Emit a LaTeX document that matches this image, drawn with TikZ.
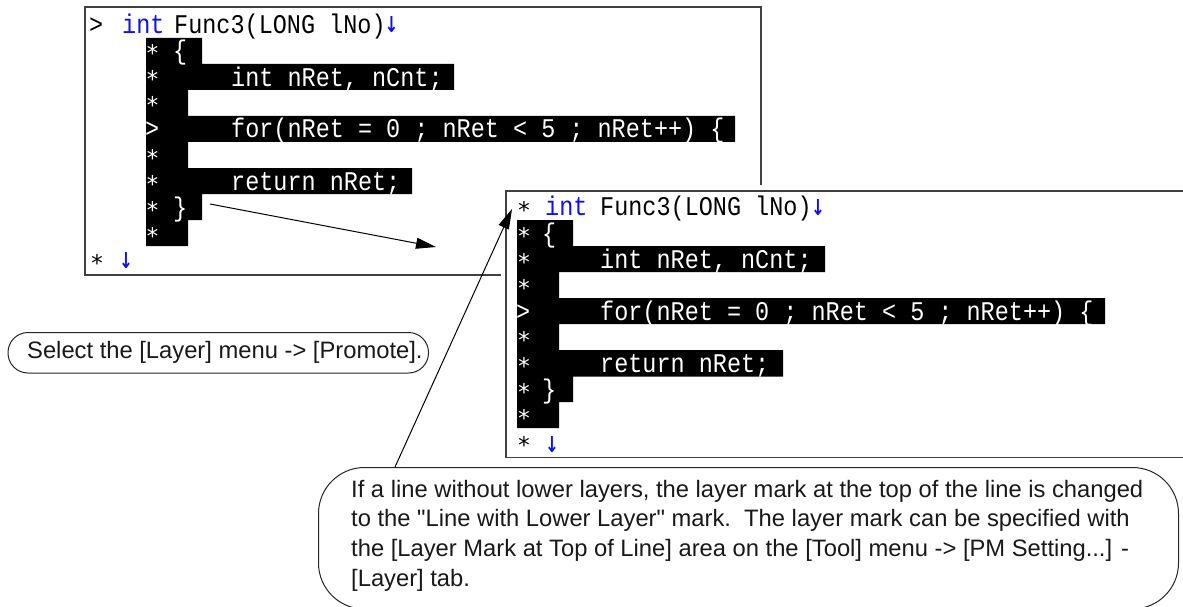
\documentclass[tikz,border=0pt]{standalone}
\usepackage{fontspec}
\usetikzlibrary{arrows.meta}
\newfontfamily\bubblefont{Liberation Sans}
\newfontfamily\codefont[FakeStretch=0.87]{Liberation Mono}
\newfontfamily\starfont{DejaVu Sans Mono}
\newfontfamily\markfont[FakeStretch=0.75]{DejaVu Sans}
\definecolor{framegray}{HTML}{404040}
\definecolor{codeblue}{HTML}{1010F0}
\tikzset{
  x=1pt,y=-1pt,
  frameline/.style={draw=framegray,line width=1.8pt},
  blackrow/.style={fill=black,draw=none},
  codetext/.style={anchor=base west,inner sep=0pt,text=black,font=\codefont\fontsize{27}{27}\selectfont},
  invtext/.style={codetext,text=white},
  kwtext/.style={codetext,text=codeblue},
  startext/.style={anchor=base,inner sep=0pt,text=black,font=\starfont\fontsize{23}{23}\selectfont},
  invstar/.style={startext,text=white},
  retmark/.style={anchor=base,inner sep=0pt,text=codeblue,font=\markfont\bfseries\fontsize{22}{22}\selectfont},
  bubble/.style={draw=black!85,line width=1pt,fill=white,anchor=north west,inner sep=0pt},
  bubbletext/.style={anchor=base west,inner sep=0pt,text=black!90,font=\bubblefont\fontsize{23.75}{29}\selectfont},
  pointer/.style={draw=black,line width=1pt,-{Triangle[length=20pt,width=11pt]}},
}
\begin{document}
\begin{tikzpicture}
\useasboundingbox (0,0) rectangle (1183,607);
\fill[white] (0,0) rectangle (1183,607);
% ---- first panel
\node[frameline,anchor=north west,minimum width=676pt,minimum height=268pt,inner sep=0pt] (frameA) at (84,6) {};
\fill[blackrow] (146,38) -- (202,38) -- (202,64) -- (454,64) -- (454,90) -- (188,90) -- (188,116) -- (735,116) -- (735,142) -- (188,142) -- (188,168) -- (412,168) -- (412,194) -- (202,194) -- (202,220) -- (188,220) -- (188,246) -- (146,246) -- cycle;
\node[codetext] (a0m) at (89,34) {>};
\node[kwtext] (a0k) at (122,34) {int};
\node[codetext] (a0t) at (174,34) {Func3(LONG lNo)};
\node[retmark] (a0r) at (391.5,33) {↓};
\node[invstar] (a1m) at (152.5,62) {*};
\node[invstar] (a2m) at (152.5,88) {*};
\node[invstar] (a3m) at (152.5,114) {*};
\node[invtext] (a4m) at (145,138) {>};
\node[invstar] (a5m) at (152.5,166) {*};
\node[invstar] (a6m) at (152.5,192) {*};
\node[invstar] (a7m) at (152.5,218) {*};
\node[invstar] (a8m) at (152.5,244) {*};
\node[invtext] (a1t) at (173,60) {\{};
\node[invtext] (a2t) at (231,87) {int nRet, nCnt;};
\node[invtext] (a4t) at (231,138) {for(nRet = 0 ; nRet < 5 ; nRet++) \{};
\node[invtext] (a6t) at (231,190) {return nRet;};
\node[invtext] (a7t) at (173,216) {\}};
\node[startext] (a9m) at (97,271) {*};
\node[retmark] (a9r) at (126,268) {↓};
% ---- halo and second panel
\fill[white] (501,185) rectangle (1183,463);
\draw[frameline] (1184,191) -- (506,191) -- (506,457.5) -- (1184,457.5);
\fill[blackrow] (517,220) -- (573,220) -- (573,246) -- (825,246) -- (825,272) -- (559,272) -- (559,298) -- (1105,298) -- (1105,324) -- (559,324) -- (559,350) -- (783,350) -- (783,376.5) -- (573,376.5) -- (573,402) -- (559,402) -- (559,428) -- (517,428) -- cycle;
\node[startext] (b0m) at (524,218) {*};
\node[kwtext] (b0k) at (545,215) {int};
\node[codetext] (b0t) at (600,215) {Func3(LONG lNo)};
\node[retmark] (b0r) at (818,215) {↓};
\node[invstar] (b1m) at (524,244) {*};
\node[invstar] (b2m) at (524,270) {*};
\node[invstar] (b3m) at (524,296) {*};
\node[invtext] (b4m) at (516,320) {>};
\node[invstar] (b5m) at (524,348) {*};
\node[invstar] (b6m) at (524,374) {*};
\node[invstar] (b7m) at (524,400) {*};
\node[invstar] (b8m) at (524,426) {*};
\node[invtext] (b1t) at (542,242) {\{};
\node[invtext] (b2t) at (600,268) {int nRet, nCnt;};
\node[invtext] (b4t) at (600,320) {for(nRet = 0 ; nRet < 5 ; nRet++) \{};
\node[invtext] (b6t) at (600,372) {return nRet;};
\node[invtext] (b7t) at (542,398) {\}};
\node[startext] (b9m) at (524,453) {*};
\node[retmark] (b9r) at (552,452) {↓};
% ---- callouts
\node[bubble,rounded corners=20pt,minimum width=420.5pt,minimum height=40.5pt] (small) at (7.5,332) {};
\node[bubbletext] (smallt) at (27,358) {Select the [Layer] menu -> [Promote].};
\node[bubble,rounded corners=46pt,minimum width=860pt,minimum height=141.5pt] (big) at (318,467) {};
\node[bubbletext] (l1) at (351,497) {If a line without lower layers, the layer mark at the top of the line is changed};
\node[bubbletext] (l2) at (351,526.5) {to the "Line with Lower Layer" mark.\ \ The layer mark can be specified with};
\node[bubbletext] (l3) at (351,556) {the [Layer Mark at Top of Line] area on the [Tool] menu -> [PM Setting...] -};
\node[bubbletext] (l4) at (351,586) {[Layer] tab.};
% ---- connectors
\coordinate (p1s) at (210,204);
\coordinate (p1e) at (436,247);
\coordinate (p2s) at (395,467);
\coordinate (p2e) at (512,209);
\draw[pointer] (p1s) -- (p1e);
\draw[pointer] (p2s) -- (p2e);
\end{tikzpicture}
\end{document}
